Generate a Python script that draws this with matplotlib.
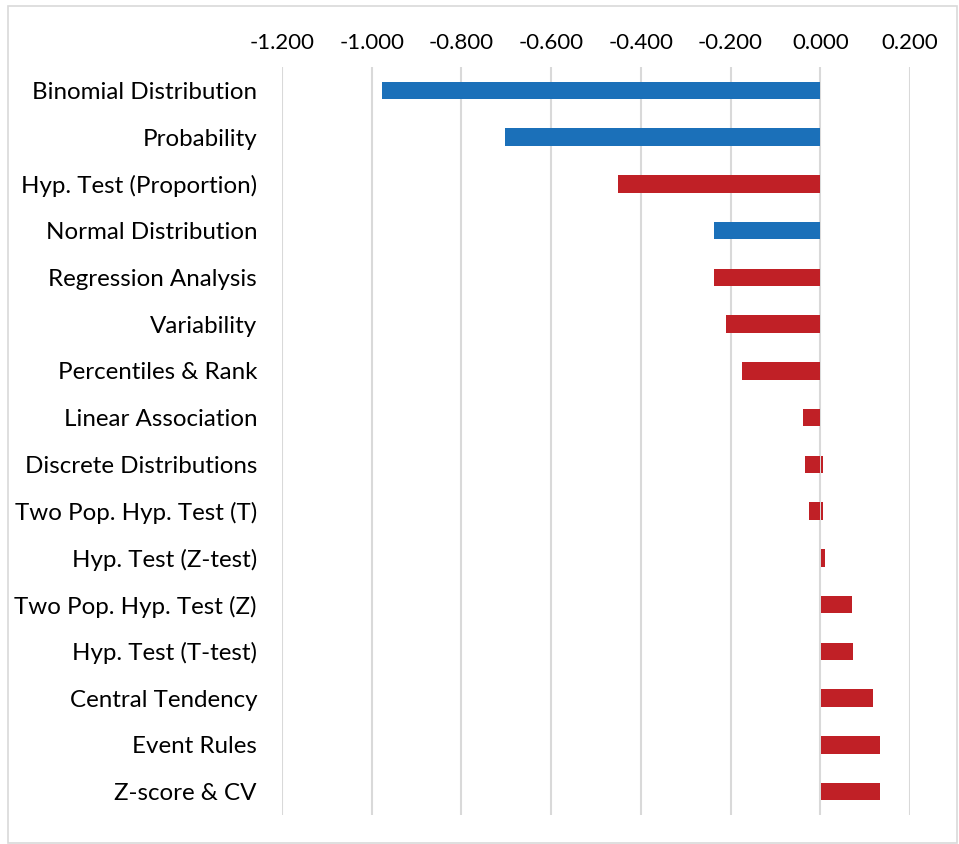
import matplotlib
matplotlib.use("Agg")
import matplotlib.pyplot as plt
from matplotlib.patches import Rectangle

categories = [
    "Binomial Distribution",
    "Probability",
    "Hyp. Test (Proportion)",
    "Normal Distribution",
    "Regression Analysis",
    "Variability",
    "Percentiles & Rank",
    "Linear Association",
    "Discrete Distributions",
    "Two Pop. Hyp. Test (T)",
    "Hyp. Test (Z-test)",
    "Two Pop. Hyp. Test (Z)",
    "Hyp. Test (T-test)",
    "Central Tendency",
    "Event Rules",
    "Z-score & CV",
]
negative_part = [-0.977, -0.703, -0.452, -0.236, -0.236, -0.211, -0.175,
                 -0.039, -0.035, -0.026, 0.0, 0.0, 0.0, 0.0, 0.0, 0.0]
positive_part = [0.0, 0.0, 0.0, 0.0, 0.0, 0.0, 0.0,
                 0.0, 0.003, 0.003, 0.008, 0.069, 0.071, 0.114, 0.131, 0.131]
group = ["blue", "blue", "red", "blue", "red", "red", "red", "red",
         "red", "red", "red", "red", "red", "red", "red", "red"]
x_ticks = [-1.2, -1.0, -0.8, -0.6, -0.4, -0.2, 0.0, 0.2]

palette = {"blue": "#1B70B9", "red": "#C02026"}
grid_color = "#D9D9D9"

plt.rcParams["font.family"] = ["Lato", "DejaVu Sans"]

W, H = 959, 844
fig = plt.figure(figsize=(W / 100, H / 100), dpi=100)
ax = fig.add_axes([282 / W, 1 - 815 / H, (910 - 282) / W, (815 - 67) / H])

y = list(range(len(categories)))
colors = [palette[g] for g in group]
bar_h = 0.375
ax.barh(y, negative_part, height=bar_h, color=colors, zorder=3)
# positive segments start just right of the zero gridline
ax.barh(y, positive_part, left=0.0025, height=bar_h, color=colors, zorder=3)

ax.set_xlim(-1.2, 0.2)
ax.set_ylim(len(categories) - 0.5, -0.5)
ax.set_xticks(x_ticks)
ax.set_xticklabels([f"{v:.3f}" for v in x_ticks])
ax.xaxis.tick_top()
ax.set_yticks(y)
ax.set_yticklabels(categories)
ax.tick_params(axis="both", length=0, labelcolor="#000000")
ax.tick_params(axis="y", pad=18, labelsize=17.4)
ax.tick_params(axis="x", pad=10, labelsize=16)
for s in ax.spines.values():
    s.set_visible(False)
ax.grid(axis="x", color=grid_color, linewidth=1.5, zorder=0)
ax.set_axisbelow(True)

fig.patches.append(Rectangle((8 / W, 1 - 843 / H), (957 - 8) / W, (843 - 6) / H,
                             transform=fig.transFigure, fill=False,
                             edgecolor=grid_color, linewidth=1.2))

fig.savefig("out.png", dpi=100)
